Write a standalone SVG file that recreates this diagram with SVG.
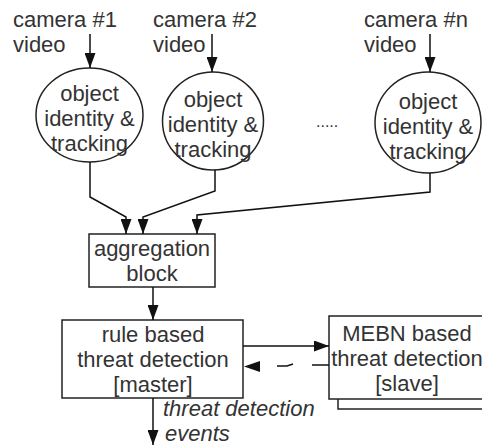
<svg xmlns="http://www.w3.org/2000/svg" width="482" height="446" viewBox="0 0 482 446">
<defs>
<marker id="ah" markerUnits="userSpaceOnUse" markerWidth="15" markerHeight="11" refX="15" refY="5.5" orient="auto">
<path d="M0,0 L15,5.5 L0,11 z" fill="#111"/>
</marker>
<style>
text{font-family:"Liberation Sans",Arial,sans-serif;font-size:22px;fill:#333}
.c{text-anchor:middle}
.i{font-style:italic}
.sh{fill:#fff;stroke:#222;stroke-width:1.5}
.ln{fill:none;stroke:#111;stroke-width:1.5}
</style>
</defs>
<rect width="482" height="446" fill="#fff"/>
<g id="cam1">
<text x="13" y="27">camera #1</text>
<text x="13" y="52">video</text>
</g>
<g id="cam2">
<text x="153" y="27">camera #2</text>
<text x="153" y="52">video</text>
</g>
<g id="camn">
<text x="364" y="27">camera #n</text>
<text x="364" y="52">video</text>
</g>
<g id="track1">
<ellipse class="sh" cx="89.5" cy="115" rx="53.5" ry="47"/>
<text class="c" x="89.5" y="101">object</text>
<text class="c" x="89.5" y="126">identity &amp;</text>
<text class="c" x="89.5" y="151">tracking</text>
</g>
<g id="track2">
<ellipse class="sh" cx="213" cy="121" rx="50.5" ry="49"/>
<text class="c" x="213" y="107">object</text>
<text class="c" x="213" y="132">identity &amp;</text>
<text class="c" x="213" y="157">tracking</text>
</g>
<g id="trackn">
<ellipse class="sh" cx="428" cy="122.5" rx="53" ry="50.5"/>
<text class="c" x="428" y="109">object</text>
<text class="c" x="428" y="134">identity &amp;</text>
<text class="c" x="428" y="159">tracking</text>
</g>
<g id="dots">
<text x="316" y="127" style="font-size:16px">.....</text>
</g>
<g id="aggregation">
<rect class="sh" x="89" y="234" width="126" height="53"/>
<text class="c" x="152" y="256">aggregation</text>
<text class="c" x="152" y="281">block</text>
</g>
<g id="rule">
<rect class="sh" x="62" y="320" width="181" height="78"/>
<text class="c" x="153" y="342">rule based</text>
<text class="c" x="153" y="367">threat detection</text>
<text class="c" x="153" y="392">[master]</text>
</g>
<g id="mebn">
<rect class="sh" x="338" y="326" width="200" height="83"/>
<rect class="sh" x="329" y="316" width="200" height="83"/>
<text class="c" x="407" y="341">MEBN based</text>
<text class="c" x="407" y="366">threat detection</text>
<text class="c" x="407" y="391">[slave]</text>
</g>
<g id="output">
<text class="i" x="163" y="416">threat detection</text>
<text class="i" x="165" y="441">events</text>
</g>
<g id="connectors">
<path class="ln" d="M90,34 V68" marker-end="url(#ah)"/>
<path class="ln" d="M212,34 V72" marker-end="url(#ah)"/>
<path class="ln" d="M430,34 V72" marker-end="url(#ah)"/>
<path class="ln" d="M90,162 V197 L126,217 V234" marker-end="url(#ah)"/>
<path class="ln" d="M215,170 V191 L143,217 V234" marker-end="url(#ah)"/>
<path class="ln" d="M430,173 V192 L197,215 V234" marker-end="url(#ah)"/>
<path class="ln" d="M153,287 V320" marker-end="url(#ah)"/>
<path class="ln" d="M153,398 V445" marker-end="url(#ah)"/>
<path class="ln" d="M243,346 H329" marker-end="url(#ah)"/>
<path class="ln" d="M329,365 H312 M293,364 L287,366 H277"/>
<path d="M244,366.5 L260,361 L260,372 z" fill="#111"/>
</g>
</svg>
